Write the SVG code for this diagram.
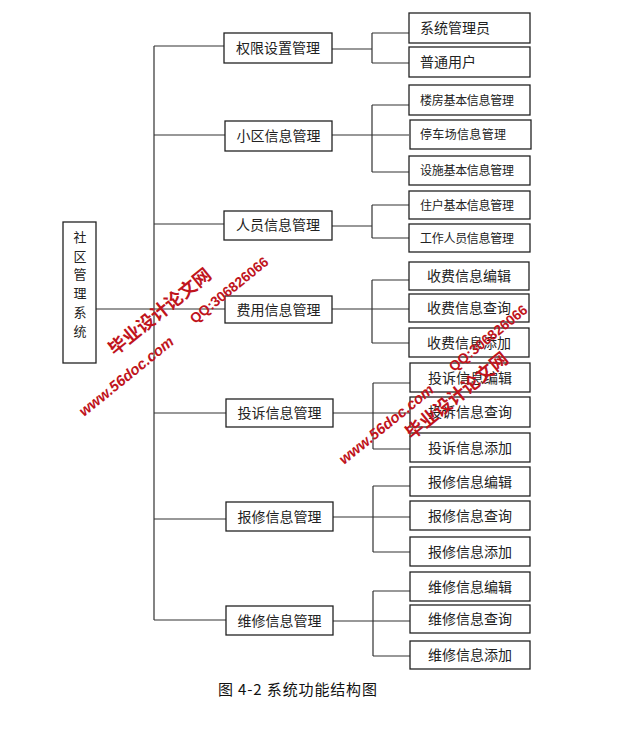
<svg xmlns="http://www.w3.org/2000/svg" width="624" height="735" viewBox="0 0 624 735">
<style>
.bx{fill:#fff;stroke:#222;stroke-width:1.3}
.t{font-family:"Noto Sans CJK SC","Noto Sans",sans-serif;font-size:14px;fill:#222}
.tc{text-anchor:middle}
.sm{font-size:12px}
.vt{font-size:13px}
.cn{fill:none;stroke:#333;stroke-width:1.2}
.wm{font-family:"Liberation Sans","Noto Sans CJK SC",sans-serif;font-weight:bold;fill:#c0141c;text-anchor:middle;dominant-baseline:central}
.cap{font-family:"Noto Sans CJK SC",sans-serif;font-size:15px;fill:#111}
</style>
<rect width="624" height="735" fill="#fff"/>
<g id="connectors" class="cn">
<path d="M96 309H154M154 46V620M154 46H224M154 135H225M154 224H224M154 309H225M154 413H226M154 519H226M154 620H226"/>
<path d="M332 49H372M372 33V63M372 33H409M372 63H409"/>
<path d="M332 135H409M372 105V172M372 105H409M372 172H409"/>
<path d="M332 226H372M372 205V238M372 205H409M372 238H409"/>
<path d="M332 309H409M372 280V343M372 280H409M372 343H409"/>
<path d="M333 413H410M373 383V449M373 383H410M373 449H410"/>
<path d="M333 517H410M373 486V552M373 486H410M373 552H410"/>
<path d="M333 621H410M373 591V656M373 591H410M373 656H410"/>
</g>
<g id="root"><rect class="bx" x="63" y="222" width="33" height="141"/>
<text class="t tc vt" x="80" y="242">社</text>
<text class="t tc vt" x="80" y="261">区</text>
<text class="t tc vt" x="80" y="279">管</text>
<text class="t tc vt" x="80" y="298">理</text>
<text class="t tc vt" x="80" y="317">系</text>
<text class="t tc vt" x="80" y="336">统</text></g>
<g id="n-quanxian"><rect class="bx" x="224" y="33" width="108" height="30"/><text class="t tc" x="278" y="53">权限设置管理</text></g>
<g id="n-xiaoqu"><rect class="bx" x="225" y="121" width="107" height="30"/><text class="t tc" x="278.5" y="141">小区信息管理</text></g>
<g id="n-renyuan"><rect class="bx" x="224" y="211" width="108" height="29"/><text class="t tc" x="278" y="230">人员信息管理</text></g>
<g id="n-feiyong"><rect class="bx" x="225" y="296" width="107" height="27"/><text class="t tc" x="278.5" y="314.5">费用信息管理</text></g>
<g id="n-tousu"><rect class="bx" x="226" y="399" width="107" height="28"/><text class="t tc" x="279.5" y="418">投诉信息管理</text></g>
<g id="n-baoxiu"><rect class="bx" x="226" y="502" width="107" height="29"/><text class="t tc" x="279.5" y="521.5">报修信息管理</text></g>
<g id="n-weixiu"><rect class="bx" x="226" y="606" width="107" height="29"/><text class="t tc" x="279.5" y="625.5">维修信息管理</text></g>
<g id="s1"><rect class="bx" x="409" y="13" width="121" height="30"/><text class="t" x="420" y="33">系统管理员</text></g>
<g id="s2"><rect class="bx" x="409" y="47" width="121" height="30"/><text class="t" x="420" y="67">普通用户</text></g>
<g id="s3"><rect class="bx" x="409" y="85" width="121" height="30"/><text class="t sm" x="420" y="104.5" textLength="94">楼房基本信息管理</text></g>
<g id="s4"><rect class="bx" x="410" y="120" width="121" height="29"/><text class="t sm" x="420" y="139" textLength="86">停车场信息管理</text></g>
<g id="s5"><rect class="bx" x="409" y="156" width="121" height="29"/><text class="t sm" x="420" y="175" textLength="94">设施基本信息管理</text></g>
<g id="s6"><rect class="bx" x="409" y="191" width="121" height="28"/><text class="t sm" x="420" y="209.5" textLength="94">住户基本信息管理</text></g>
<g id="s7"><rect class="bx" x="409" y="224" width="121" height="28"/><text class="t sm" x="420" y="242.5" textLength="94">工作人员信息管理</text></g>
<g id="s8"><rect class="bx" x="409" y="262" width="120" height="28"/><text class="t tc" x="469" y="281">收费信息编辑</text></g>
<g id="s9"><rect class="bx" x="409" y="294" width="120" height="28"/><text class="t tc" x="469" y="313">收费信息查询</text></g>
<g id="s10"><rect class="bx" x="409" y="328" width="120" height="29"/><text class="t tc" x="469" y="347.5">收费信息添加</text></g>
<g id="s11"><rect class="bx" x="410" y="363" width="120" height="29"/><text class="t tc" x="470" y="382.5">投诉信息编辑</text></g>
<g id="s12"><rect class="bx" x="410" y="397" width="120" height="30"/><text class="t tc" x="470" y="417">投诉信息查询</text></g>
<g id="s13"><rect class="bx" x="410" y="433" width="120" height="29"/><text class="t tc" x="470" y="452.5">投诉信息添加</text></g>
<g id="s14"><rect class="bx" x="410" y="467" width="120" height="29"/><text class="t tc" x="470" y="486.5">报修信息编辑</text></g>
<g id="s15"><rect class="bx" x="410" y="501" width="120" height="29"/><text class="t tc" x="470" y="520.5">报修信息查询</text></g>
<g id="s16"><rect class="bx" x="410" y="537" width="120" height="29"/><text class="t tc" x="470" y="556.5">报修信息添加</text></g>
<g id="s17"><rect class="bx" x="410" y="572" width="120" height="29"/><text class="t tc" x="470" y="591.5">维修信息编辑</text></g>
<g id="s18"><rect class="bx" x="410" y="605" width="120" height="28"/><text class="t tc" x="470" y="624">维修信息查询</text></g>
<g id="s19"><rect class="bx" x="410" y="641" width="120" height="28"/><text class="t tc" x="470" y="660">维修信息添加</text></g>
<text class="cap" x="218" y="695" textLength="159">图 4-2 系统功能结构图</text>
<g id="watermark">
<text class="wm" font-size="18" transform="translate(160 312) rotate(-39)">毕业设计论文网</text>
<text class="wm" font-size="15" font-style="italic" transform="translate(126 376) rotate(-39)">www.56doc.com</text>
<text class="wm" font-size="14" transform="translate(229 290) rotate(-39)">QQ:306826066</text>
<text class="wm" font-size="14" transform="translate(488 338) rotate(-39)">QQ:306826066</text>
<text class="wm" font-size="18" transform="translate(457 396) rotate(-39)">毕业设计论文网</text>
<text class="wm" font-size="15" font-style="italic" transform="translate(386 424) rotate(-39)">www.56doc.com</text>
</g>
</svg>
